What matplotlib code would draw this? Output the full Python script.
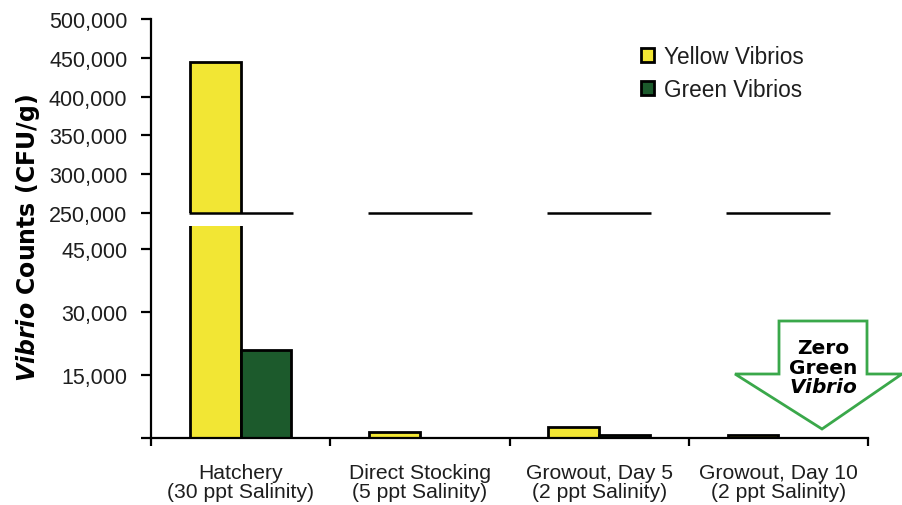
import numpy as np
import matplotlib.pyplot as plt
from matplotlib.patches import Rectangle, Polygon

# vibrio counts per sampling stage (CFU/g)
stages = ['Hatchery\n(30 ppt Salinity)', 'Direct Stocking\n(5 ppt Salinity)',
          'Growout, Day 5\n(2 ppt Salinity)', 'Growout, Day 10\n(2 ppt Salinity)']
yellow = [445000, 1400, 2500, 700]
green = [21000, 0, 700, 0]
yticks = [0, 15000, 30000, 45000, 250000, 300000, 350000, 400000, 450000, 500000]
ylabels = ['', '15,000', '30,000', '45,000', '250,000', '300,000', '350,000',
           '400,000', '450,000', '500,000']

# broken axis: linear below B, compressed above 250,000
B = 53550.0
K = 0.1847
GAP_LO = 50500


def fwd(v):
    v = np.asarray(v, dtype=float)
    return np.where(v <= B, v, np.where(v < 250000, B, B + (v - 250000) * K))


def inv(u):
    u = np.asarray(u, dtype=float)
    return np.where(u <= B, u, 250000 + (u - B) / K)


plt.rcParams['font.family'] = ['Liberation Sans', 'DejaVu Sans']
plt.rcParams['mathtext.fontset'] = 'custom'
plt.rcParams['mathtext.it'] = 'DejaVu Sans:italic:bold'
plt.rcParams['mathtext.rm'] = 'DejaVu Sans:bold'

YEL = '#f2e634'
GRN = '#1c5a2c'
TXT = '#1e1e1e'

fig = plt.figure(figsize=(9.02, 5.06), dpi=100)
ax = fig.add_axes([151 / 902, 1 - 439 / 506, 717 / 902, 419 / 506])
ax.set_yscale('function', functions=(fwd, inv))

x = np.arange(len(stages))
w = 0.283
ax.bar(x - w / 2, yellow, w, color=YEL, edgecolor='black', linewidth=2,
       label='Yellow Vibrios', zorder=2)
ax.bar(x + w / 2, green, w, color=GRN, edgecolor='black', linewidth=2,
       label='Green Vibrios', zorder=2)

# white gap through the tall hatchery bar, then the break lines
ax.add_patch(Rectangle((x[0] - w - 0.02, GAP_LO), w + 0.04, 250000 - GAP_LO,
                       facecolor='white', edgecolor='none', zorder=3))
ax.hlines([250000] * len(x), x - 0.29, x + 0.29, color='black', linewidth=1.8,
          zorder=4)

ax.set_xlim(-0.5, 3.5)
ax.set_ylim(0, 500000)
ax.set_yticks(yticks)
ax.set_yticklabels(ylabels)
ax.set_xticks([-0.5, 0.5, 1.5, 2.5, 3.5])
ax.set_xticklabels([])
ax.set_xticks(x, minor=True)
ax.set_xticklabels(stages, minor=True, fontsize=15.2, color=TXT, linespacing=1.0)
ax.tick_params(axis='x', which='major', direction='out', length=6, width=1.6)
ax.tick_params(axis='x', which='minor', length=0, pad=18)
ax.tick_params(axis='y', direction='out', length=7, width=1.6, labelsize=15.5,
               labelcolor=TXT, pad=10)
for s in ['top', 'right']:
    ax.spines[s].set_visible(False)
for s in ['left', 'bottom']:
    ax.spines[s].set_linewidth(1.6)

fig.text(0.031, 0.53, r'$Vibrio$ Counts (CFU/g)', rotation=90, ha='center',
         va='center', fontsize=17, fontweight='bold', family='DejaVu Sans',
         color='black')

leg = ax.legend(loc='upper left', bbox_to_anchor=(641 / 902, 1 - 46 / 506),
                bbox_transform=fig.transFigure, frameon=False, fontsize=16.3,
                handlelength=0.58, handleheight=0.58, handletextpad=0.45,
                labelspacing=0.45, borderaxespad=0, borderpad=0)
for t in leg.get_texts():
    t.set_color(TXT)

# "zero green" arrow pointing at the last group
pts = [(779, 322), (867, 322), (867, 375), (902, 375), (822, 430),
       (735, 375), (779, 375)]
arrow = Polygon([(px / 902, 1 - py / 506) for px, py in pts], closed=True,
                facecolor='white', edgecolor='#3aa84a', linewidth=2,
                transform=fig.transFigure, clip_on=False, zorder=5)
fig.add_artist(arrow)
fig.text(823 / 902, 1 - 368 / 506, 'Zero\nGreen\n$Vibrio$', ha='center',
         va='center', fontsize=14.5, fontweight='bold', family='DejaVu Sans',
         linespacing=1.05, zorder=6)

fig.savefig('out.png', dpi=100)
